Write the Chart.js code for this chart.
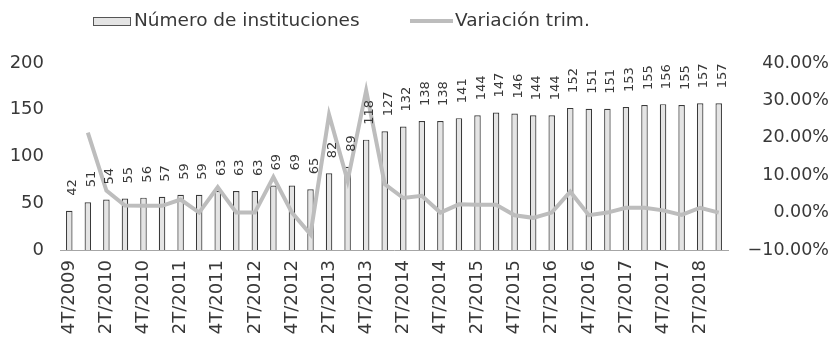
<!DOCTYPE html>
<html>
<head>
<meta charset="utf-8">
<script src="https://cdn.jsdelivr.net/npm/chart.js@4/dist/chart.umd.min.js"></script>
<style>
  html, body { margin: 0; padding: 0; background: #ffffff; }
  #wrap { width: 829px; height: 342px; }
</style>
</head>
<body>
<div id="wrap"><canvas id="c" width="829" height="342"></canvas></div>
<script>
// Quarters from 4T/2009 to 3T/2018
const quarters = [
  '4T/2009',
  '1T/2010','2T/2010','3T/2010','4T/2010',
  '1T/2011','2T/2011','3T/2011','4T/2011',
  '1T/2012','2T/2012','3T/2012','4T/2012',
  '1T/2013','2T/2013','3T/2013','4T/2013',
  '1T/2014','2T/2014','3T/2014','4T/2014',
  '1T/2015','2T/2015','3T/2015','4T/2015',
  '1T/2016','2T/2016','3T/2016','4T/2016',
  '1T/2017','2T/2017','3T/2017','4T/2017',
  '1T/2018','2T/2018','3T/2018'
];

// Number of institutions per quarter
const institutions = [
  42, 51, 54, 55, 56, 57, 59, 59, 63, 63, 63, 69, 69, 65, 82, 89, 118, 127,
  132, 138, 138, 141, 144, 147, 146, 144, 144, 152, 151, 151, 153, 155, 156, 155, 157, 157
];

// Quarter-on-quarter change, in percent
const quarterlyChange = [
  null, 21.4, 5.9, 1.9, 1.8, 1.8, 3.5, 0.0, 6.8, 0.0, 0.0, 9.5, 0.0, -5.8, 26.2, 8.5,
  32.6, 7.6, 3.9, 4.5, 0.0, 2.2, 2.1, 2.1, -0.7, -1.4, 0.0, 5.6, -0.7, 0.0, 1.3, 1.3,
  0.6, -0.6, 1.3, 0.0
];

const leftTicks = [0, 50, 100, 150, 200];
const rightTicks = [-10, 0, 10, 20, 30, 40];

const FONT = '"DejaVu Sans", sans-serif';
const TEXT = '#383838';
const BAR_FILL = '#e4e4e4';
const BAR_EDGE = '#3a3a3a';
const LINE = '#bdbdbd';

// Vertical value labels above each bar
const barLabels = {
  id: 'barLabels',
  afterDatasetsDraw(chart) {
    const meta = chart.getDatasetMeta(0);
    const ctx = chart.ctx;
    ctx.save();
    ctx.font = '13px ' + FONT;
    ctx.fillStyle = TEXT;
    ctx.textAlign = 'left';
    ctx.textBaseline = 'alphabetic';
    meta.data.forEach((bar, i) => {
      ctx.save();
      ctx.translate(bar.x + 7, bar.y - 15);
      ctx.rotate(-Math.PI / 2);
      ctx.fillText(String(institutions[i]), 0, 0);
      ctx.restore();
    });
    ctx.restore();
  }
};

// Legend row at the top
const topLegend = {
  id: 'topLegend',
  afterDraw(chart) {
    const ctx = chart.ctx;
    const ds = chart.data.datasets;
    ctx.save();
    ctx.font = '18.5px ' + FONT;
    ctx.textBaseline = 'middle';
    const y = 21;
    // bar series swatch
    ctx.fillStyle = BAR_FILL;
    ctx.fillRect(93.5, 17.5, 37, 8);
    ctx.strokeStyle = '#555555';
    ctx.lineWidth = 1;
    ctx.strokeRect(93.5, 17.5, 37, 8);
    ctx.fillStyle = TEXT;
    ctx.fillText(ds[0].label, 134, y);
    // line series swatch
    ctx.strokeStyle = LINE;
    ctx.lineWidth = 4;
    ctx.beginPath();
    ctx.moveTo(410, y);
    ctx.lineTo(453, y);
    ctx.stroke();
    ctx.fillText(ds[1].label, 455, y);
    ctx.restore();
  }
};

new Chart(document.getElementById('c'), {
  data: {
    labels: quarters,
    datasets: [
      {
        type: 'bar',
        label: 'Número de instituciones',
        data: institutions,
        yAxisID: 'yL',
        backgroundColor: BAR_FILL,
        borderColor: BAR_EDGE,
        borderWidth: 1.2,
        categoryPercentage: 1.0,
        barPercentage: 0.35,
        order: 1
      },
      {
        type: 'line',
        label: 'Variación trim.',
        data: quarterlyChange,
        yAxisID: 'yR',
        borderColor: LINE,
        borderWidth: 4,
        pointRadius: 0,
        tension: 0,
        spanGaps: false,
        order: 0
      }
    ]
  },
  options: {
    responsive: false,
    animation: false,
    layout: { padding: { top: 63, left: 0, right: 0, bottom: 0 } },
    plugins: {
      legend: { display: false },
      tooltip: { enabled: false }
    },
    scales: {
      x: {
        grid: { display: false, drawTicks: false },
        border: { display: true, color: '#a6a6a6', width: 1 },
        ticks: {
          autoSkip: false,
          minRotation: 90,
          maxRotation: 90,
          padding: 10,
          color: TEXT,
          font: { family: FONT, size: 18 },
          callback(v, i) { return i % 2 === 0 ? quarters[i] : ''; }
        },
        afterFit(s) { s.height = 92; }
      },
      yL: {
        position: 'left',
        min: 0, max: 200,
        grid: { display: false, drawTicks: false },
        border: { display: false },
        afterBuildTicks(s) { s.ticks = leftTicks.map(v => ({ value: v })); },
        ticks: {
          padding: 16,
          color: TEXT,
          font: { family: FONT, size: 18 }
        },
        afterFit(s) { s.width = 60; }
      },
      yR: {
        position: 'right',
        min: -10, max: 40,
        grid: { display: false, drawTicks: false },
        border: { display: false },
        afterBuildTicks(s) { s.ticks = rightTicks.map(v => ({ value: v })); },
        ticks: {
          crossAlign: 'far',
          padding: 2,
          color: TEXT,
          font: { family: FONT, size: 17.5 },
          callback(v) { return (v < 0 ? '\u2212' : '') + Math.abs(v).toFixed(2) + '%'; }
        },
        afterFit(s) { s.width = 101; }
      }
    }
  },
  plugins: [barLabels, topLegend]
});
</script>
</body>
</html>
